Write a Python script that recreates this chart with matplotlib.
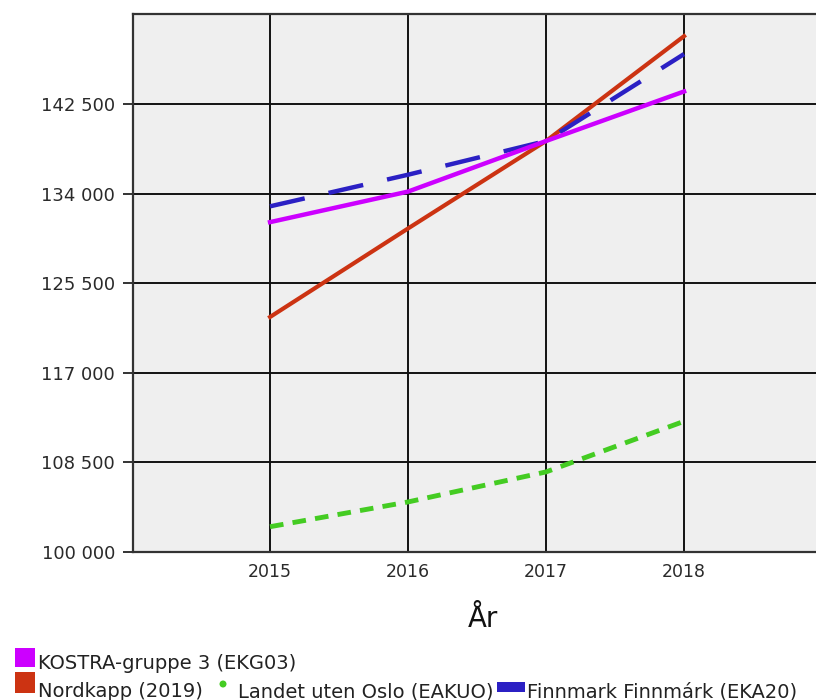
import matplotlib
matplotlib.use("Agg")
import matplotlib.pyplot as plt
from matplotlib.patches import Rectangle, Ellipse

# data
years = [2015, 2016, 2017, 2018]
kostra = [131300, 134200, 139000, 143700]
nordkapp = [122300, 130700, 139000, 148950]
landet = [102400, 104750, 107600, 112400]
finnmark = [132800, 135800, 139000, 147250]

yticks = [100000, 108500, 117000, 125500, 134000, 142500]
ylabels = ["100 000", "108 500", "117 000", "125 500", "134 000", "142 500"]

names = ["KOSTRA-gruppe 3 (EKG03)", "Nordkapp (2019)",
         "Landet uten Oslo (EAKUO)", "Finnmark Finnmárk (EKA20)"]

c_kostra = "#cc00ff"
c_nordkapp = "#cc3312"
c_landet = "#44cc22"
c_finnmark = "#2b20c4"

plt.rcParams["font.family"] = "DejaVu Sans"

W, H = 816, 700
fig = plt.figure(figsize=(W/100, H/100), dpi=100)
ax = fig.add_axes([133/W, 148/H, 683/W, 538/H])
ax.set_facecolor("#efefef")

ax.plot(years, kostra, color=c_kostra, lw=3.2, zorder=4)
ax.plot(years, nordkapp, color=c_nordkapp, lw=3, zorder=3)
ax.plot(years, finnmark, color=c_finnmark, lw=3.2, dashes=(8, 5.5), zorder=3)
ax.plot(years, landet, color=c_landet, lw=3.5, dashes=(2.8, 1.9), zorder=3)

ax.set_xlim(2014.007, 2018.956)
ax.set_ylim(100000, 151050)
ax.set_xticks(years)
ax.set_yticks(yticks)
ax.set_yticklabels(ylabels)
ax.grid(True, color="#111111", lw=1.4, zorder=1)
ax.set_axisbelow(True)
for s in ["left", "top", "bottom"]:
    ax.spines[s].set_color("#333333")
    ax.spines[s].set_linewidth(1.6)
ax.spines["right"].set_visible(False)
ax.tick_params(axis="y", length=7, width=1.4, color="#333333", labelsize=13, pad=6)
ax.tick_params(axis="x", length=0, labelsize=12.5, pad=8)
for t in ax.get_xticklabels() + ax.get_yticklabels():
    t.set_color("#2a2a2a")

ax.set_xlabel("År", fontsize=20, labelpad=12, color="#111111")
ax.xaxis.set_label_coords(0.512, -0.098)


# legend drawn in figure pixels (origin top-left)
def px(x, y):
    return x / W, 1 - y / H


def box(x, y, w, h, color):
    fx, fy = px(x, y + h)
    fig.add_artist(Rectangle((fx, fy), w / W, h / H, transform=fig.transFigure,
                             facecolor=color, edgecolor="none"))


def label(x, y, s):
    fx, fy = px(x, y)
    fig.text(fx, fy, s, fontsize=14, color="#222222", va="baseline", ha="left")


box(15, 648, 20, 19, c_kostra)
label(38, 669, names[0])

box(15, 672, 20, 21, c_nordkapp)
label(38, 697, names[1])

cx, cy = px(223, 684)
fig.add_artist(Ellipse((cx, cy), 7 / W, 7 / H, transform=fig.transFigure,
                       facecolor=c_landet, edgecolor="none"))
label(238, 697, names[2])

box(497, 682, 28, 10, c_finnmark)
label(527, 697, names[3])

fig.savefig("out.png", dpi=100)
